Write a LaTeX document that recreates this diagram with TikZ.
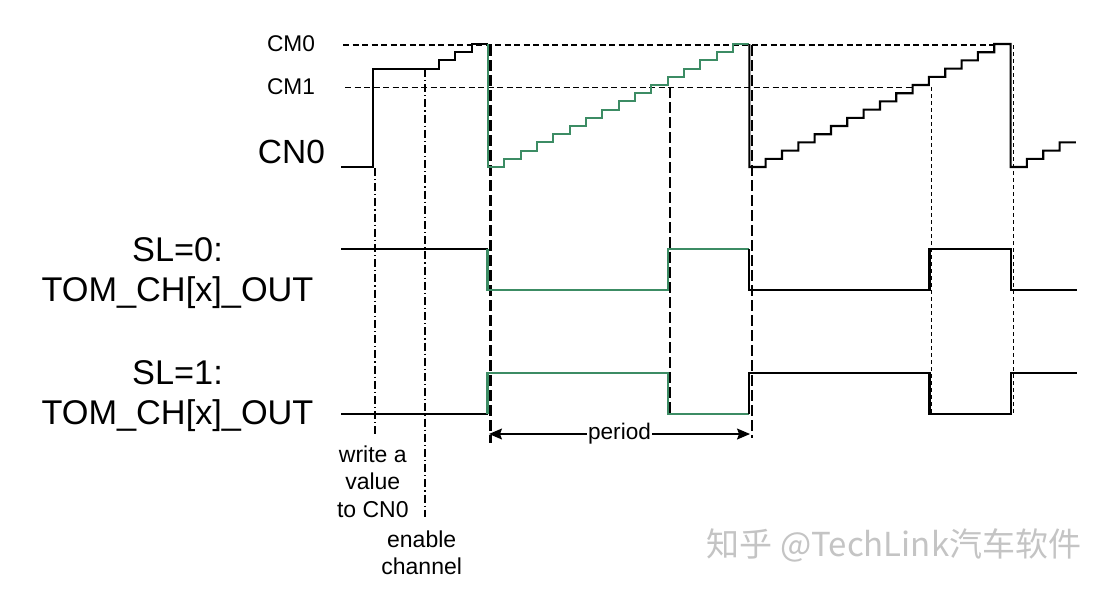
\documentclass[tikz,border=0pt]{standalone}
\usepackage{fontspec}
\setmainfont{Liberation Sans}
\newfontfamily\cjkfont{Noto Sans CJK SC}
\usetikzlibrary{arrows.meta}
\definecolor{sigGreen}{RGB}{60,140,100}
\definecolor{wmGray}{RGB}{196,196,196}
\def\tsW{16.33}
\def\tsH{8.2}
\begin{document}
\begin{tikzpicture}[x=1pt,y=-1pt,
  sig/.style={line width=2.1pt,black},
  gsig/.style={line width=2.1pt,sigGreen},
  cmdash/.style={line width=1.5pt,dash pattern=on 6pt off 3.5pt},
  longdash/.style={line width=2.2pt,dash pattern=on 11pt off 4pt},
  shortdash/.style={line width=1.4pt,dash pattern=on 4pt off 3pt},
  dashdot/.style={line width=1.2pt,dash pattern=on 8pt off 3pt on 1.2pt off 3pt},
  biglabel/.style={font=\fontsize{34.3}{40}\selectfont,inner sep=0pt,align=center},
  cmlabel/.style={font=\fontsize{22.7}{27}\selectfont,inner sep=0pt},
  smalllabel/.style={font=\fontsize{23}{27.4}\selectfont,inner sep=0pt,align=center},
]
\useasboundingbox (0,0) rectangle (1110,592);
\fill[white] (0,0) rectangle (1110,592);

% labels
\node[cmlabel] (cm0) at (291,43.5) {CM0};
\node[cmlabel] (cm1) at (291,87) {CM1};
\node[biglabel,font=\fontsize{33.5}{40}\selectfont] (cn0) at (291.5,152) {CN0};
\node[biglabel] (sl0) at (177.5,273.5) {SL=0:\\TOM\_CH[x]\_OUT};
\node[biglabel] (sl1) at (177.5,396.5) {SL=1:\\TOM\_CH[x]\_OUT};
\node[smalllabel] (wr) at (372.8,481.7) {write a\\value\\to CN0};
\node[smalllabel] (en) at (421.7,552.8) {enable\\channel};

% compare level lines
\coordinate (cm0a) at (343,45);
\coordinate (cm0b) at (995,45);
\coordinate (cm1a) at (345,87.3);
\coordinate (cm1b) at (913,87.3);
\draw[cmdash] (cm0a) -- (cm0b);
\draw[cmdash] (cm1a) -- (cm1b);

% vertical markers
\draw[dashdot] (375,168) -- (375,437);
\draw[dashdot] (425,69) -- (425,517);
\draw[longdash] (490.5,45) -- (490.5,443);
\draw[longdash] (670,87) -- (670,414);
\draw[longdash] (751.8,45) -- (751.8,438);
\draw[shortdash] (931.5,87) -- (931.5,415);
\draw[shortdash] (1013.2,45) -- (1013.2,415);

% CN0 counter
\draw[sig] (341,167) -- (373,167) -- (373,68.6) -- (439,68.6) -- (439,60.4) -- (455.3,60.4) -- (455.3,52.2) -- (471.7,52.2) -- (471.7,44) -- (488,44);
\draw[gsig] (488,44) -- (488,167) \foreach \k in {1,...,15}{ -- ++(\tsW,0) -- ++(0,-\tsH)} -- ++(\tsW,0);
\draw[sig] (749.3,44) -- (749.3,167) \foreach \k in {1,...,15}{ -- ++(\tsW,0) -- ++(0,-\tsH)} -- ++(\tsW,0)
  -- (1010.6,167) -- ++(\tsW,0) \foreach \k in {1,2,3}{ -- ++(0,-\tsH) -- ++(\tsW,0)};

% SL=0 output
\draw[sig] (341,249) -- (487.5,249);
\draw[gsig] (487.5,249) -- (487.5,290) -- (668,290) -- (668,249) -- (749,249);
\draw[sig] (749,249) -- (749,290) -- (929.5,290) -- (929.5,249) -- (1011,249) -- (1011,290) -- (1077,290);

% SL=1 output
\draw[sig] (341,414) -- (487.5,414);
\draw[gsig] (487.5,414) -- (487.5,373) -- (668,373) -- (668,414) -- (749,414);
\draw[sig] (749,414) -- (749,373) -- (929.5,373) -- (929.5,414) -- (1011,414) -- (1011,373) -- (1077,373);

% period
\coordinate (pL) at (489,434);
\coordinate (pR) at (750,434);
\draw[line width=1.2pt,{Stealth[length=13pt,width=11pt,inset=2pt]}-{Stealth[length=13pt,width=11pt,inset=2pt]}] (pL) -- (pR)
  node[midway,fill=white,inner sep=1pt,font=\fontsize{22.6}{27}\selectfont] (per) {period};

% watermark
\node[text=wmGray,font=\cjkfont\fontsize{33}{33}\selectfont,inner sep=0pt] (wm) at (894,545) {知乎 @TechLink汽车软件};
\end{tikzpicture}
\end{document}
